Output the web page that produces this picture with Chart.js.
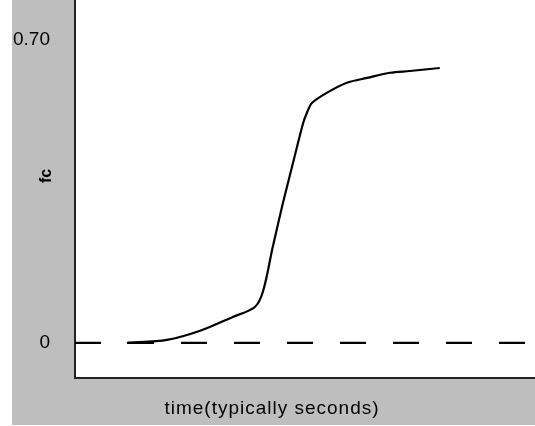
<!DOCTYPE html>
<html>
<head>
<meta charset="utf-8">
<script src="https://cdn.jsdelivr.net/npm/chart.js@4/dist/chart.umd.min.js"></script>
<style>
  body { margin: 0; background: #fff; }
  #wrap { width: 535px; height: 426px; }
</style>
</head>
<body>
<div id="wrap"><canvas id="curve-chart" width="535" height="426"></canvas></div>
<script>
// time (arbitrary units, typically seconds) and response values
const times = [1.13, 2.0, 2.72, 3.43, 3.91, 4.09, 4.3, 4.52, 4.74, 4.96, 5.04, 5.15, 5.48, 5.91, 6.35, 6.85, 7.28, 7.93];
const values = [0, 0.007, 0.028, 0.06, 0.083, 0.12, 0.222, 0.323, 0.416, 0.508, 0.531, 0.554, 0.578, 0.601, 0.612, 0.624, 0.628, 0.635];
const baselineTimes = [0, 10];
const baselineValues = [0, 0];
const yTicks = [0, 0.7];
const yTickLabels = ['0', '0.70'];
const xTitle = 'time(typically seconds)';
const yTitle = 'fc';

const grey = '#bebebe';

const backdrop = {
    id: 'backdrop',
    beforeDraw(chart) {
        const c = chart.ctx;
        const a = chart.chartArea;
        c.save();
        c.fillStyle = '#fff';
        c.fillRect(0, 0, chart.width, chart.height);
        c.fillStyle = grey;
        c.fillRect(12, 0, chart.width - 12, chart.height - 1);
        c.fillStyle = '#fff';
        c.fillRect(a.left, a.top, a.right - a.left, a.bottom - a.top);
        c.restore();
    },
    afterDraw(chart) {
        const c = chart.ctx;
        c.save();
        c.fillStyle = '#000';
        c.font = '19px "Liberation Sans", Arial, sans-serif';
        c.textAlign = 'center';
        c.textBaseline = 'middle';
        if ('letterSpacing' in c) c.letterSpacing = '1px';
        c.fillText(xTitle, 272, 409);
        c.restore();

        c.save();
        c.translate(47, 176);
        c.rotate(-Math.PI / 2);
        c.fillStyle = '#000';
        c.font = 'bold 16px "Liberation Sans", Arial, sans-serif';
        c.textAlign = 'center';
        c.textBaseline = 'middle';
        c.fillText(yTitle, 0, 0);
        c.restore();
    }
};

const ctx = document.getElementById('curve-chart').getContext('2d');
const curveChart = new Chart(ctx, {
    type: 'line',
    data: {
        datasets: [{
            label: 'response',
            data: times.map((t, i) => ({ x: t, y: values[i] })),
            borderColor: '#000',
            borderWidth: 2.2,
            pointRadius: 0,
            tension: 0.3,
            fill: false
        }, {
            label: 'zero',
            data: baselineTimes.map((t, i) => ({ x: t, y: baselineValues[i] })),
            borderColor: '#000',
            borderWidth: 2.2,
            borderDash: [26, 27],
            pointRadius: 0,
            fill: false
        }]
    },
    options: {
        responsive: false,
        animation: false,
        layout: { padding: 0, autoPadding: false },
        plugins: {
            legend: { display: false },
            tooltip: { enabled: false }
        },
        scales: {
            x: {
                type: 'linear',
                min: 0,
                max: 10,
                grid: { display: false, drawTicks: false },
                border: { display: true, color: '#222', width: 2 },
                ticks: { display: false },
                afterFit: (s) => { s.height = 48; s.paddingLeft = 0; s.paddingRight = 0; }
            },
            y: {
                type: 'linear',
                min: -0.081,
                max: 0.792,
                grid: { display: false, drawTicks: false },
                border: { display: true, color: '#222', width: 2 },
                afterBuildTicks: (s) => { s.ticks = yTicks.map(v => ({ value: v })); },
                ticks: {
                    color: '#000',
                    padding: 25,
                    font: { family: '"Liberation Sans", Arial, sans-serif', size: 19 },
                    callback: (v) => yTickLabels[yTicks.indexOf(v)]
                },
                afterFit: (s) => { s.width = 75; s.paddingTop = 0; s.paddingBottom = 0; }
            }
        }
    },
    plugins: [backdrop]
});
</script>
</body>
</html>
